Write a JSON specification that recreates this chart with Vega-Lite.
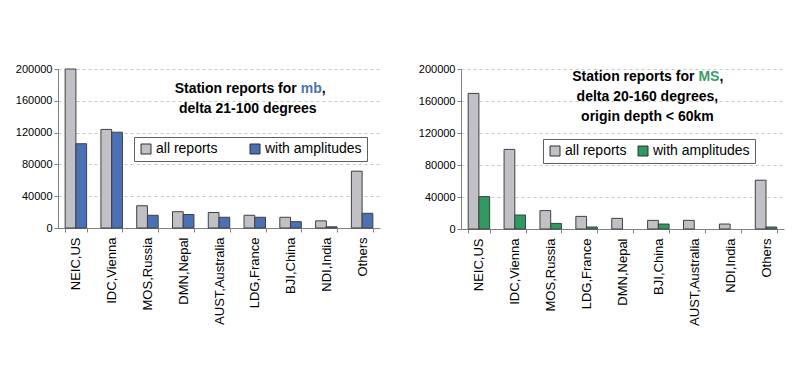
{
  "$schema": "https://vega.github.io/schema/vega-lite/v6.json",
  "padding": {"left": 15, "top": 63, "right": 5, "bottom": 5},
  "background": "#ffffff",
  "spacing": 38,
  "config": {
    "view": {"stroke": null},
    "font": "Liberation Sans",
    "axis": {"labelFont": "Liberation Sans", "titleFont": "Liberation Sans"},
    "legend": {"labelFont": "Liberation Sans"},
    "axisY": {"title": null, "labelFontSize": 11, "labelColor": "#000000", "labelPadding": 2, "labelOverlap": false, "labelFlush": false, "labelBound": false, "tickSize": 4, "tickColor": "#808080", "domain": true, "domainColor": "#808080", "gridColor": "#c8c8c8", "gridDash": [3, 3]}
  },
  "resolve": {"scale": {"color": "independent"}, "legend": {"color": "independent"}},
  "datasets": {
    "mb": [
      {"station": "NEIC,US", "series": "all reports", "count": 200000},
      {"station": "NEIC,US", "series": "with amplitudes", "count": 106000},
      {"station": "IDC,Vienna", "series": "all reports", "count": 124000},
      {"station": "IDC,Vienna", "series": "with amplitudes", "count": 120500},
      {"station": "MOS,Russia", "series": "all reports", "count": 28000},
      {"station": "MOS,Russia", "series": "with amplitudes", "count": 16000},
      {"station": "DMN,Nepal", "series": "all reports", "count": 20500},
      {"station": "DMN,Nepal", "series": "with amplitudes", "count": 17000},
      {"station": "AUST,Australia", "series": "all reports", "count": 19500},
      {"station": "AUST,Australia", "series": "with amplitudes", "count": 13500},
      {"station": "LDG,France", "series": "all reports", "count": 16000},
      {"station": "LDG,France", "series": "with amplitudes", "count": 13500},
      {"station": "BJI,China", "series": "all reports", "count": 13500},
      {"station": "BJI,China", "series": "with amplitudes", "count": 8000},
      {"station": "NDI,India", "series": "all reports", "count": 9000},
      {"station": "NDI,India", "series": "with amplitudes", "count": 1500},
      {"station": "Others", "series": "all reports", "count": 71500},
      {"station": "Others", "series": "with amplitudes", "count": 18500}
    ],
    "ms": [
      {"station": "NEIC,US", "series": "all reports", "count": 169500},
      {"station": "NEIC,US", "series": "with amplitudes", "count": 40500},
      {"station": "IDC,Vienna", "series": "all reports", "count": 99500},
      {"station": "IDC,Vienna", "series": "with amplitudes", "count": 17500},
      {"station": "MOS,Russia", "series": "all reports", "count": 23000},
      {"station": "MOS,Russia", "series": "with amplitudes", "count": 7000},
      {"station": "LDG,France", "series": "all reports", "count": 15800},
      {"station": "LDG,France", "series": "with amplitudes", "count": 2500},
      {"station": "DMN,Nepal", "series": "all reports", "count": 13300},
      {"station": "BJI,China", "series": "all reports", "count": 10800},
      {"station": "BJI,China", "series": "with amplitudes", "count": 6200},
      {"station": "AUST,Australia", "series": "all reports", "count": 10800},
      {"station": "NDI,India", "series": "all reports", "count": 6200},
      {"station": "Others", "series": "all reports", "count": 61000},
      {"station": "Others", "series": "with amplitudes", "count": 2500}
    ]
  },
  "hconcat": [
    {
      "width": 322,
      "height": 159,
      "layer": [
        {
          "data": {"name": "mb"},
          "mark": {"type": "bar", "stroke": "#404040", "strokeWidth": 1},
          "encoding": {
            "x": {
              "field": "station", "type": "nominal",
              "sort": ["NEIC,US","IDC,Vienna","MOS,Russia","DMN,Nepal","AUST,Australia","LDG,France","BJI,China","NDI,India","Others"],
              "scale": {"paddingInner": 0.4, "paddingOuter": 0.2},
              "axis": {"title": null, "labelAngle": -90, "labelAlign": "right", "labelBaseline": "middle", "labelFontSize": 13, "labelColor": "#000000", "labelPadding": 5, "labelOverlap": false, "tickBand": "extent", "tickSize": 4, "tickColor": "#808080", "domainColor": "#808080"}
            },
            "xOffset": {"field": "series", "type": "nominal", "scale": {"paddingInner": 0}},
            "y": {
              "field": "count", "type": "quantitative",
              "scale": {"domain": [0, 200000], "nice": false},
              "axis": {"values": [0,40000,80000,120000,160000,200000], "format": "d"}
            },
            "color": {
              "field": "series", "type": "nominal",
              "scale": {"domain": ["all reports", "with amplitudes"], "range": ["#c0c0c6", "#4a70b6"]},
              "legend": {"title": null, "orient": "none", "legendX": 76, "legendY": 68, "direction": "horizontal", "symbolType": "square", "symbolSize": 100, "symbolStrokeColor": "#303030", "symbolStrokeWidth": 1, "labelFontSize": 14, "labelColor": "#000000", "columnPadding": 30, "padding": 5, "strokeColor": "#606060", "fillColor": "#ffffff", "labelOffset": 3}
            }
          }
        },
        {
          "data": {"values": [{"t": "Station reports for"}]},
          "mark": {"type": "text", "fontSize": 14, "fontWeight": "bold", "align": "right", "baseline": "middle", "dx": 42, "color": "#000000"},
          "encoding": {"x": {"datum": "LDG,France"}, "y": {"datum": 175000, "axis": {"values": [0,40000,80000,120000,160000,200000], "format": "d"}}, "text": {"field": "t"}}
        },
        {
          "data": {"values": [{"t": "mb"}]},
          "mark": {"type": "text", "fontSize": 14, "fontWeight": "bold", "align": "left", "baseline": "middle", "dx": 46, "color": "#4a72b8"},
          "encoding": {"x": {"datum": "LDG,France"}, "y": {"datum": 175000, "axis": {"values": [0,40000,80000,120000,160000,200000], "format": "d"}}, "text": {"field": "t"}}
        },
        {
          "data": {"values": [{"t": ","}]},
          "mark": {"type": "text", "fontSize": 14, "fontWeight": "bold", "align": "left", "baseline": "middle", "dx": 67, "color": "#000000"},
          "encoding": {"x": {"datum": "LDG,France"}, "y": {"datum": 175000, "axis": {"values": [0,40000,80000,120000,160000,200000], "format": "d"}}, "text": {"field": "t"}}
        },
        {
          "data": {"values": [{"t": "delta 21-100 degrees"}]},
          "mark": {"type": "text", "fontSize": 14, "fontWeight": "bold", "align": "center", "baseline": "middle", "dx": -7, "color": "#000000"},
          "encoding": {"x": {"datum": "LDG,France"}, "y": {"datum": 150000, "axis": {"values": [0,40000,80000,120000,160000,200000], "format": "d"}}, "text": {"field": "t"}}
        }
      ]
    },
    {
      "width": 323,
      "height": 160,
      "layer": [
        {
          "data": {"name": "ms"},
          "mark": {"type": "bar", "stroke": "#404040", "strokeWidth": 1},
          "encoding": {
            "x": {
              "field": "station", "type": "nominal",
              "sort": ["NEIC,US","IDC,Vienna","MOS,Russia","LDG,France","DMN,Nepal","BJI,China","AUST,Australia","NDI,India","Others"],
              "scale": {"paddingInner": 0.4, "paddingOuter": 0.2},
              "axis": {"title": null, "labelAngle": -90, "labelAlign": "right", "labelBaseline": "middle", "labelFontSize": 13, "labelColor": "#000000", "labelPadding": 5, "labelOverlap": false, "tickBand": "extent", "tickSize": 4, "tickColor": "#808080", "domainColor": "#808080"}
            },
            "xOffset": {"field": "series", "type": "nominal", "scale": {"domain": ["all reports", "with amplitudes"], "paddingInner": 0}},
            "y": {
              "field": "count", "type": "quantitative",
              "scale": {"domain": [0, 200000], "nice": false},
              "axis": {"values": [0,40000,80000,120000,160000,200000], "format": "d"}
            },
            "color": {
              "field": "series", "type": "nominal",
              "scale": {"domain": ["all reports", "with amplitudes"], "range": ["#c0c0c6", "#2e9a62"]},
              "legend": {"title": null, "orient": "none", "legendX": 82, "legendY": 70, "direction": "horizontal", "symbolType": "square", "symbolSize": 100, "symbolStrokeColor": "#303030", "symbolStrokeWidth": 1, "labelFontSize": 14, "labelColor": "#000000", "columnPadding": 9, "padding": 5, "strokeColor": "#606060", "fillColor": "#ffffff", "labelOffset": 3}
            }
          }
        },
        {
          "data": {"values": [{"t": "Station reports for"}]},
          "mark": {"type": "text", "fontSize": 14, "fontWeight": "bold", "align": "right", "baseline": "middle", "dx": 36, "color": "#000000"},
          "encoding": {"x": {"datum": "BJI,China"}, "y": {"datum": 190000, "axis": {"values": [0,40000,80000,120000,160000,200000], "format": "d"}}, "text": {"field": "t"}}
        },
        {
          "data": {"values": [{"t": "MS"}]},
          "mark": {"type": "text", "fontSize": 14, "fontWeight": "bold", "align": "left", "baseline": "middle", "dx": 40, "color": "#3a9e66"},
          "encoding": {"x": {"datum": "BJI,China"}, "y": {"datum": 190000, "axis": {"values": [0,40000,80000,120000,160000,200000], "format": "d"}}, "text": {"field": "t"}}
        },
        {
          "data": {"values": [{"t": ","}]},
          "mark": {"type": "text", "fontSize": 14, "fontWeight": "bold", "align": "left", "baseline": "middle", "dx": 61, "color": "#000000"},
          "encoding": {"x": {"datum": "BJI,China"}, "y": {"datum": 190000, "axis": {"values": [0,40000,80000,120000,160000,200000], "format": "d"}}, "text": {"field": "t"}}
        },
        {
          "data": {"values": [{"t": "delta 20-160 degrees,"}]},
          "mark": {"type": "text", "fontSize": 14, "fontWeight": "bold", "align": "center", "baseline": "middle", "dx": -11, "color": "#000000"},
          "encoding": {"x": {"datum": "BJI,China"}, "y": {"datum": 165000, "axis": {"values": [0,40000,80000,120000,160000,200000], "format": "d"}}, "text": {"field": "t"}}
        },
        {
          "data": {"values": [{"t": "origin depth < 60km"}]},
          "mark": {"type": "text", "fontSize": 14, "fontWeight": "bold", "align": "center", "baseline": "middle", "dx": -11, "color": "#000000"},
          "encoding": {"x": {"datum": "BJI,China"}, "y": {"datum": 140000, "axis": {"values": [0,40000,80000,120000,160000,200000], "format": "d"}}, "text": {"field": "t"}}
        }
      ]
    }
  ]
}
